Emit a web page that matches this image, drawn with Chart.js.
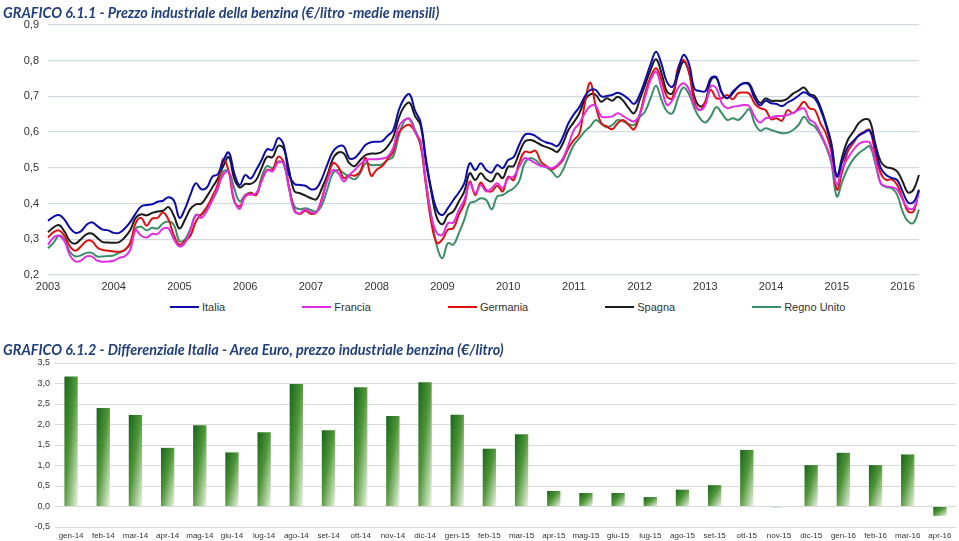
<!DOCTYPE html>
<html lang="it">
<head>
<meta charset="utf-8">
<title>Prezzo industriale della benzina</title>
<script src="https://cdn.jsdelivr.net/npm/chart.js@4.4.1/dist/chart.umd.min.js"></script>
<style>
  body { margin: 0; background: #fff; width: 959px; height: 541px; overflow: hidden; position: relative; font-family: "Liberation Sans", Arial, sans-serif; }
  .titolo { position: absolute; left: 3px; font-family: Lato, "Noto Sans", sans-serif; font-weight: bold; font-style: italic; font-size: 16px; color: #213f7a; white-space: nowrap; transform: scaleX(0.9); transform-origin: 0 0; }
  #t1 { top: 2px; }
  #t2 { top: 339px; }
  #box1 { position: absolute; left: 0; top: 0; width: 959px; height: 295px; }
  #box2 { position: absolute; left: 0; top: 335px; width: 959px; height: 206px; }
  #legenda { position: absolute; left: 170px; top: 301px; display: flex; gap: 77px; font-size: 11px; color: #333; }
  .voce { display: flex; align-items: center; }
  .linea { display: inline-block; width: 29px; height: 2px; margin-right: 3px; }
</style>
</head>
<body>
<div id="box1"><canvas id="chartPrezzi"></canvas></div>
<div class="titolo" id="t1">GRAFICO 6.1.1 - Prezzo industriale della benzina (€/litro -medie mensili)</div>
<div id="legenda"></div>
<div id="box2"><canvas id="chartDiff"></canvas></div>
<div class="titolo" id="t2">GRAFICO 6.1.2 - Differenziale Italia - Area Euro, prezzo industriale benzina (€/litro)</div>
<script>
// ---------- Dati grafico 6.1.1 (gen 2003 - apr 2016) ----------
const anni = [2003, 2004, 2005, 2006, 2007, 2008, 2009, 2010, 2011, 2012, 2013, 2014, 2015, 2016];
const mesi = ['gen', 'feb', 'mar', 'apr', 'mag', 'giu', 'lug', 'ago', 'set', 'ott', 'nov', 'dic'];

const italia = [
  0.352, 0.363, 0.368, 0.355, 0.332, 0.318, 0.322, 0.340, 0.348, 0.337, 0.327, 0.325,
  0.318, 0.318, 0.330, 0.348, 0.372, 0.392, 0.396, 0.398, 0.405, 0.408, 0.418, 0.408,
  0.360, 0.385, 0.425, 0.457, 0.440, 0.445, 0.475, 0.482, 0.520, 0.543, 0.485, 0.452,
  0.480, 0.470, 0.494, 0.522, 0.552, 0.550, 0.583, 0.565, 0.480, 0.455, 0.452, 0.450,
  0.440, 0.443, 0.470, 0.510, 0.545, 0.560, 0.560, 0.527, 0.528, 0.545, 0.565, 0.572,
  0.573, 0.575, 0.590, 0.605, 0.660, 0.694, 0.706, 0.660, 0.628, 0.525, 0.438, 0.382,
  0.368, 0.387, 0.410, 0.431, 0.457, 0.513, 0.494, 0.513, 0.494, 0.487, 0.508, 0.499,
  0.522, 0.530, 0.564, 0.592, 0.595, 0.589, 0.578, 0.571, 0.567, 0.561, 0.587, 0.625,
  0.650, 0.670, 0.700, 0.718, 0.718, 0.700, 0.701, 0.704, 0.710, 0.704, 0.692, 0.679,
  0.704, 0.745, 0.790, 0.825, 0.790, 0.740, 0.727, 0.770, 0.816, 0.792, 0.722, 0.715,
  0.715, 0.751, 0.754, 0.710, 0.695, 0.713, 0.728, 0.737, 0.732, 0.694, 0.675, 0.688,
  0.681, 0.679, 0.673, 0.683, 0.691, 0.702, 0.712, 0.703, 0.694, 0.664, 0.620, 0.562,
  0.476, 0.518, 0.558, 0.575, 0.590, 0.599, 0.604, 0.559, 0.500, 0.480, 0.472, 0.466,
  0.434, 0.403, 0.404, 0.438
];
const francia = [
  0.285, 0.305, 0.310, 0.295, 0.255, 0.238, 0.240, 0.252, 0.252, 0.240, 0.237, 0.238,
  0.240, 0.248, 0.252, 0.270, 0.325, 0.310, 0.305, 0.315, 0.315, 0.330, 0.330, 0.300,
  0.280, 0.290, 0.325, 0.368, 0.360, 0.380, 0.410, 0.445, 0.480, 0.490, 0.410, 0.385,
  0.424, 0.425, 0.429, 0.462, 0.494, 0.490, 0.515, 0.513, 0.443, 0.378, 0.373, 0.384,
  0.375, 0.376, 0.410, 0.465, 0.494, 0.485, 0.462, 0.480, 0.494, 0.510, 0.522, 0.524,
  0.524, 0.526, 0.531, 0.555, 0.615, 0.634, 0.636, 0.600, 0.575, 0.460, 0.364, 0.317,
  0.313, 0.345, 0.347, 0.382, 0.410, 0.457, 0.429, 0.452, 0.434, 0.443, 0.457, 0.443,
  0.471, 0.475, 0.503, 0.527, 0.522, 0.513, 0.505, 0.503, 0.499, 0.508, 0.527, 0.564,
  0.606, 0.625, 0.653, 0.673, 0.673, 0.644, 0.642, 0.644, 0.653, 0.645, 0.636, 0.630,
  0.648, 0.699, 0.746, 0.769, 0.723, 0.676, 0.690, 0.723, 0.737, 0.720, 0.676, 0.662,
  0.676, 0.729, 0.723, 0.681, 0.667, 0.671, 0.673, 0.676, 0.673, 0.643, 0.627, 0.639,
  0.641, 0.645, 0.645, 0.648, 0.654, 0.662, 0.667, 0.636, 0.625, 0.597, 0.564, 0.522,
  0.453, 0.499, 0.527, 0.550, 0.567, 0.573, 0.571, 0.522, 0.457, 0.448, 0.446, 0.439,
  0.411, 0.387, 0.387, 0.434
];
const germania = [
  0.305, 0.320, 0.325, 0.310, 0.280, 0.268, 0.280, 0.295, 0.295, 0.277, 0.270, 0.268,
  0.266, 0.265, 0.270, 0.290, 0.345, 0.360, 0.338, 0.358, 0.360, 0.375, 0.355, 0.310,
  0.285, 0.295, 0.310, 0.350, 0.370, 0.390, 0.420, 0.455, 0.525, 0.490, 0.406, 0.392,
  0.420, 0.429, 0.424, 0.466, 0.494, 0.494, 0.531, 0.517, 0.448, 0.382, 0.371, 0.380,
  0.371, 0.375, 0.415, 0.470, 0.513, 0.503, 0.471, 0.480, 0.478, 0.490, 0.528, 0.478,
  0.495, 0.505, 0.525, 0.545, 0.597, 0.615, 0.620, 0.601, 0.565, 0.450, 0.345, 0.290,
  0.300, 0.327, 0.331, 0.369, 0.400, 0.462, 0.424, 0.459, 0.438, 0.434, 0.450, 0.434,
  0.475, 0.466, 0.513, 0.545, 0.543, 0.548, 0.517, 0.505, 0.496, 0.505, 0.522, 0.555,
  0.578, 0.596, 0.681, 0.739, 0.672, 0.625, 0.616, 0.608, 0.625, 0.634, 0.620, 0.608,
  0.648, 0.709, 0.755, 0.779, 0.746, 0.699, 0.695, 0.780, 0.802, 0.769, 0.685, 0.662,
  0.685, 0.718, 0.695, 0.695, 0.704, 0.692, 0.709, 0.711, 0.708, 0.680, 0.667, 0.662,
  0.636, 0.639, 0.632, 0.662, 0.653, 0.667, 0.685, 0.667, 0.662, 0.625, 0.597, 0.546,
  0.439, 0.490, 0.546, 0.569, 0.592, 0.601, 0.606, 0.541, 0.485, 0.466, 0.468, 0.453,
  0.415, 0.378, 0.378, 0.439
];
const spagna = [
  0.320, 0.333, 0.340, 0.322, 0.295, 0.288, 0.300, 0.314, 0.316, 0.304, 0.292, 0.291,
  0.290, 0.292, 0.305, 0.325, 0.360, 0.370, 0.367, 0.374, 0.378, 0.380, 0.390, 0.365,
  0.330, 0.355, 0.385, 0.398, 0.400, 0.420, 0.445, 0.470, 0.505, 0.530, 0.470, 0.445,
  0.455, 0.455, 0.466, 0.500, 0.531, 0.530, 0.561, 0.555, 0.494, 0.434, 0.429, 0.422,
  0.415, 0.412, 0.443, 0.480, 0.525, 0.543, 0.540, 0.513, 0.505, 0.522, 0.536, 0.540,
  0.540, 0.545, 0.560, 0.585, 0.638, 0.671, 0.682, 0.645, 0.620, 0.515, 0.430, 0.360,
  0.342, 0.368, 0.378, 0.406, 0.434, 0.485, 0.466, 0.485, 0.468, 0.462, 0.485, 0.471,
  0.503, 0.505, 0.541, 0.573, 0.578, 0.573, 0.564, 0.558, 0.552, 0.545, 0.569, 0.606,
  0.628, 0.653, 0.690, 0.706, 0.704, 0.685, 0.695, 0.688, 0.699, 0.688, 0.667, 0.653,
  0.690, 0.732, 0.774, 0.804, 0.765, 0.713, 0.709, 0.760, 0.797, 0.769, 0.699, 0.672,
  0.685, 0.746, 0.752, 0.711, 0.695, 0.709, 0.727, 0.737, 0.736, 0.704, 0.682, 0.694,
  0.688, 0.688, 0.688, 0.694, 0.708, 0.716, 0.725, 0.707, 0.701, 0.671, 0.625, 0.569,
  0.476, 0.532, 0.578, 0.601, 0.625, 0.636, 0.632, 0.569, 0.518, 0.502, 0.499, 0.490,
  0.462, 0.431, 0.439, 0.480
];
const regnoUnito = [
  0.275, 0.290, 0.310, 0.300, 0.265, 0.252, 0.255, 0.262, 0.262, 0.252, 0.252, 0.253,
  0.255, 0.262, 0.270, 0.285, 0.330, 0.335, 0.325, 0.332, 0.330, 0.345, 0.350, 0.340,
  0.295, 0.300, 0.330, 0.368, 0.368, 0.385, 0.410, 0.440, 0.490, 0.490, 0.443, 0.406,
  0.424, 0.431, 0.425, 0.475, 0.505, 0.499, 0.518, 0.511, 0.443, 0.392, 0.384, 0.387,
  0.382, 0.378, 0.396, 0.440, 0.485, 0.494, 0.485, 0.475, 0.468, 0.485, 0.513, 0.508,
  0.508, 0.510, 0.522, 0.531, 0.587, 0.630, 0.638, 0.606, 0.565, 0.460, 0.360, 0.280,
  0.247, 0.289, 0.285, 0.317, 0.355, 0.401, 0.406, 0.415, 0.410, 0.384, 0.420, 0.424,
  0.434, 0.443, 0.462, 0.513, 0.527, 0.522, 0.508, 0.501, 0.490, 0.474, 0.494, 0.531,
  0.564, 0.583, 0.602, 0.616, 0.634, 0.623, 0.614, 0.620, 0.634, 0.630, 0.623, 0.620,
  0.642, 0.658, 0.695, 0.730, 0.690, 0.658, 0.653, 0.695, 0.725, 0.707, 0.667, 0.639,
  0.627, 0.644, 0.670, 0.653, 0.634, 0.639, 0.634, 0.648, 0.664, 0.625, 0.604, 0.611,
  0.606, 0.601, 0.597, 0.598, 0.606, 0.620, 0.643, 0.625, 0.615, 0.592, 0.560, 0.513,
  0.420, 0.462, 0.499, 0.524, 0.541, 0.552, 0.560, 0.513, 0.457, 0.446, 0.443, 0.425,
  0.378, 0.350, 0.346, 0.383
];

// ---------- Dati grafico 6.1.2 ----------
const mesiDiff = ['gen-14', 'feb-14', 'mar-14', 'apr-14', 'mag-14', 'giu-14', 'lug-14', 'ago-14', 'set-14', 'ott-14', 'nov-14', 'dic-14',
  'gen-15', 'feb-15', 'mar-15', 'apr-15', 'mag-15', 'giu-15', 'lug-15', 'ago-15', 'set-15', 'ott-15', 'nov-15', 'dic-15',
  'gen-16', 'feb-16', 'mar-16', 'apr-16'];
const differenziale = [3.17, 2.40, 2.23, 1.43, 1.98, 1.32, 1.81, 2.99, 1.86, 2.91, 2.21, 3.03,
  2.24, 1.41, 1.76, 0.38, 0.33, 0.33, 0.23, 0.41, 0.52, 1.38, -0.02, 1.01,
  1.31, 1.01, 1.27, -0.23];

// ---------- Etichette mesi ----------
const etichette = [];
anni.forEach((a, k) => {
  const n = k === anni.length - 1 ? 4 : 12;
  for (let m = 0; m < n; m++) etichette.push(mesi[m] + ' ' + a);
});

const virgola = v => v.toFixed(1).replace('.', ',');

// ---------- Grafico 6.1.1 ----------
const serie = [
  { label: 'Italia', data: italia, color: '#0c0caa' },
  { label: 'Francia', data: francia, color: '#e22ee2' },
  { label: 'Germania', data: germania, color: '#dd1111' },
  { label: 'Spagna', data: spagna, color: '#1c1c1c' },
  { label: 'Regno Unito', data: regnoUnito, color: '#3b8f68' }
];

new Chart(document.getElementById('chartPrezzi'), {
  type: 'line',
  data: {
    labels: etichette,
    datasets: serie.map(s => ({
      label: s.label, data: s.data, borderColor: s.color, backgroundColor: s.color,
      borderWidth: 2, pointRadius: 0, tension: 0.4, fill: false
    }))
  },
  options: {
    responsive: true, maintainAspectRatio: false, animation: false,
    layout: { padding: { left: 0, right: 40, top: 25, bottom: 0 } },
    plugins: { legend: { display: false }, title: { display: false }, tooltip: { enabled: false } },
    scales: {
      x: {
        grid: { display: false, drawTicks: false },
        border: { display: false },
        ticks: {
          autoSkip: false, maxRotation: 0, minRotation: 0, padding: 5,
          color: '#333', font: { family: '"Liberation Sans", Arial', size: 11 },
          callback: (v, i) => i % 12 === 0 ? String(anni[i / 12]) : ''
        },
        afterFit: s => { s.height = 20; }
      },
      y: {
        min: 0.2, max: 0.9,
        grid: { color: '#d3d9e3', lineWidth: 1.3, drawTicks: false },
        border: { display: false },
        ticks: {
          stepSize: 0.1, padding: 9, color: '#333',
          font: { family: '"Liberation Sans", Arial', size: 11 },
          callback: v => virgola(v)
        },
        afterFit: s => { s.width = 48; }
      }
    }
  }
});

// legenda in basso
const legenda = document.getElementById('legenda');
serie.forEach(s => {
  const voce = document.createElement('div');
  voce.className = 'voce';
  voce.innerHTML = `<span class="linea" style="background:${s.color}"></span>${s.label}`;
  legenda.appendChild(voce);
});

// ---------- Grafico 6.1.2 ----------
const PERC_BARRA = 0.415;
const VERDE = '#3f8a2f';

function riempiBarra(ctx) {
  const chart = ctx.chart;
  const xs = chart.scales.x, ys = chart.scales.y;
  if (!xs || !ys || ctx.type !== 'data') return VERDE;
  const cx = xs.getPixelForValue(ctx.dataIndex);
  const w = Math.abs(xs.getPixelForValue(1) - xs.getPixelForValue(0)) * PERC_BARRA;
  const yv = ys.getPixelForValue(ctx.raw), y0 = ys.getPixelForValue(0);
  if (![cx, w, yv, y0].every(Number.isFinite) || w <= 0) return VERDE;
  const left = cx - w / 2, top = Math.min(yv, y0);
  const h = Math.max(Math.abs(y0 - yv), 1);
  // sfumatura diagonale "alla Excel": scuro in alto a sinistra, chiaro in basso a destra
  const k = 2 * w * h / (h * h + w * w);
  const g = chart.ctx.createLinearGradient(left, top, left + h * k, top + w * k);
  g.addColorStop(0, '#17661a');
  g.addColorStop(0.45, '#4f9538');
  g.addColorStop(1, '#eef6e4');
  return g;
}

new Chart(document.getElementById('chartDiff'), {
  type: 'bar',
  data: {
    labels: mesiDiff,
    datasets: [{
      label: 'Differenziale', data: differenziale,
      backgroundColor: riempiBarra, borderWidth: 0,
      barPercentage: PERC_BARRA, categoryPercentage: 1
    }]
  },
  options: {
    responsive: true, maintainAspectRatio: false, animation: false,
    layout: { padding: { left: 0, right: 3, top: 28, bottom: 0 } },
    plugins: { legend: { display: false }, tooltip: { enabled: false } },
    scales: {
      x: {
        grid: { display: false, drawTicks: false },
        border: { display: false },
        ticks: {
          autoSkip: false, maxRotation: 0, minRotation: 0, padding: 4, color: '#333',
          font: { family: '"Liberation Sans", Arial', size: 8 }
        },
        afterFit: s => { s.height = 14; }
      },
      y: {
        min: -0.5, max: 3.5,
        grid: { color: '#d9d9d9', lineWidth: 1, drawTicks: false },
        border: { display: false },
        ticks: {
          stepSize: 0.5, padding: 5, color: '#333',
          font: { family: '"Liberation Sans", Arial', size: 9 },
          callback: v => virgola(v)
        },
        afterFit: s => { s.width = 55; }
      }
    }
  }
});
</script>
</body>
</html>
